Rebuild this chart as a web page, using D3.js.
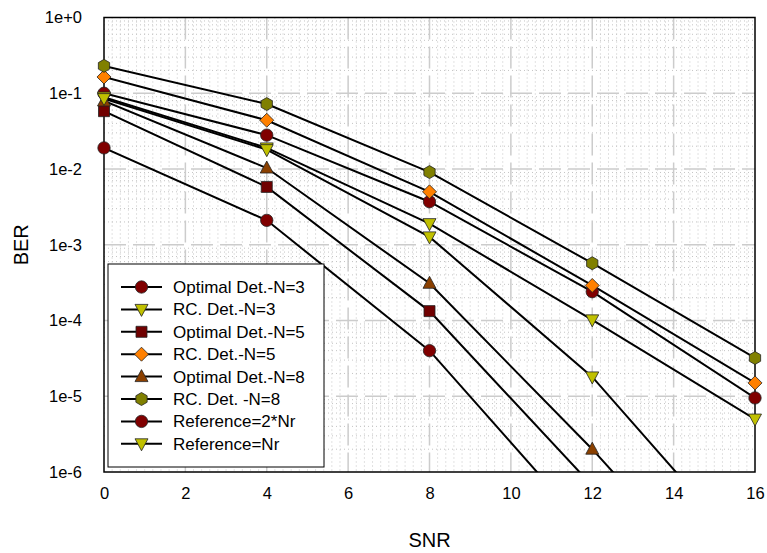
<!DOCTYPE html>
<html>
<head>
<meta charset="utf-8">
<script src="https://cdn.jsdelivr.net/npm/d3@7"></script>
<style>
  body { margin: 0; background: #fff; }
  svg { font-family: "Liberation Sans", Arial, sans-serif; }
</style>
</head>
<body>
<div id="chart"></div>
<script>
// SNR points and BER values
var snr = [0, 4, 8, 12, 16];
var optN3 = [0.1, 0.028, 0.0037, 2.4e-4, 9.5e-6];
var rcN3 = [0.089, 0.019, 0.0019, 1.02e-4, 5e-6];
var optN5 = [0.058, 0.0058, 1.33e-4, 6.6e-7];
var rcN5 = [0.164, 0.044, 0.005, 2.9e-4, 1.5e-5];
var optN8 = [0.079, 0.0103, 3.1e-4, 2e-6, 8.5e-9];
var rcN8 = [0.23, 0.072, 0.0091, 5.7e-4, 3.2e-5];
var ref2Nr = [0.019, 0.0021, 4e-5, 1.5e-7];
var refNr = [0.085, 0.018, 0.00127, 1.8e-5, 6.5e-8];

var xTicks = [0, 2, 4, 6, 8, 10, 12, 14, 16];
var yTicks = [1, 1e-1, 1e-2, 1e-3, 1e-4, 1e-5, 1e-6];

var series = [
    { name: "Optimal Det.-N=3", values: optN3, marker: "circle", color: "#800000" },
    { name: "RC. Det.-N=3", values: rcN3, marker: "tridown", color: "#c0c000" },
    { name: "Optimal Det.-N=5", values: optN5, marker: "square", color: "#700000" },
    { name: "RC. Det.-N=5", values: rcN5, marker: "diamond", color: "#ff8000" },
    { name: "Optimal Det.-N=8", values: optN8, marker: "triup", color: "#8b4000" },
    { name: "RC. Det. -N=8", values: rcN8, marker: "hexagon", color: "#808000" },
    { name: "Reference=2*Nr", values: ref2Nr, marker: "circle", color: "#800000" },
    { name: "Reference=Nr", values: refNr, marker: "tridown", color: "#c0c000" }
];

var width = 767, height = 553;
var pLeft = 104, pRight = 755, pTop = 17.5, pBottom = 472;

var svg = d3.select("#chart")
    .append("svg")
    .attr("width", width)
    .attr("height", height);

var x = d3.scaleLinear().domain([0, 16]).range([pLeft, pRight]);
var y = d3.scaleLog().domain([1e-6, 1]).range([pBottom, pTop]);

svg.append("clipPath").attr("id", "plot")
    .append("rect")
    .attr("x", pLeft).attr("y", pTop)
    .attr("width", pRight - pLeft).attr("height", pBottom - pTop);

// minor grid (dotted)
var grid = svg.append("g");
var minorX = d3.range(0, 16.01, 0.2).filter(d => Math.abs(d / 2 - Math.round(d / 2)) > 0.01);
grid.selectAll(".mx").data(minorX).enter().append("line")
    .attr("x1", d => x(d)).attr("x2", d => x(d))
    .attr("y1", pTop).attr("y2", pBottom)
    .attr("stroke", "#c4c4c4").attr("stroke-width", 1)
    .attr("stroke-dasharray", "1,3");
var minorY = [];
for (var e = -6; e < 0; e++) {
    for (var k = 2; k <= 9; k++) minorY.push(k * Math.pow(10, e));
}
grid.selectAll(".my").data(minorY).enter().append("line")
    .attr("x1", pLeft).attr("x2", pRight)
    .attr("y1", d => y(d)).attr("y2", d => y(d))
    .attr("stroke", "#c4c4c4").attr("stroke-width", 1)
    .attr("stroke-dasharray", "1,3");

// major grid (dashed)
grid.selectAll(".Mx").data(xTicks.slice(1, -1)).enter().append("line")
    .attr("x1", d => x(d)).attr("x2", d => x(d))
    .attr("y1", pTop).attr("y2", pBottom)
    .attr("stroke", "#cccccc").attr("stroke-width", 1.5)
    .attr("stroke-dasharray", "22,7");
grid.selectAll(".My").data(yTicks.slice(1, -1)).enter().append("line")
    .attr("x1", pLeft).attr("x2", pRight)
    .attr("y1", d => y(d)).attr("y2", d => y(d))
    .attr("stroke", "#cccccc").attr("stroke-width", 1.5)
    .attr("stroke-dasharray", "22,7");

// frame
svg.append("rect")
    .attr("x", pLeft).attr("y", pTop)
    .attr("width", pRight - pLeft).attr("height", pBottom - pTop)
    .attr("fill", "none").attr("stroke", "#000").attr("stroke-width", 1.5);

// axes
var xAxis = svg.append("g")
    .attr("transform", "translate(0," + pBottom + ")")
    .call(d3.axisBottom(x).tickValues(xTicks).tickSize(0).tickPadding(15));
var fmt = function(d) {
    var p = Math.round(Math.log10(d));
    return "1e" + (p >= 0 ? "+" : "") + p;
};
var yAxis = svg.append("g")
    .attr("transform", "translate(" + pLeft + ",0)")
    .call(d3.axisLeft(y).tickValues(yTicks).tickFormat(fmt).tickSize(0).tickPadding(22));
[xAxis, yAxis].forEach(function(a) {
    a.select(".domain").remove();
    a.selectAll("text").attr("font-size", "16.5px").attr("fill", "#000")
        .attr("font-family", "Liberation Sans, Arial, sans-serif");
});

svg.append("text")
    .attr("x", (pLeft + pRight) / 2).attr("y", 547)
    .attr("text-anchor", "middle")
    .attr("font-size", "20px")
    .text("SNR");
svg.append("text")
    .attr("transform", "translate(28," + (pTop + pBottom) / 2 + ") rotate(-90)")
    .attr("text-anchor", "middle")
    .attr("font-size", "20px")
    .text("BER");

// marker shapes
function markerPath(type) {
    if (type === "circle") return d3.symbol(d3.symbolCircle, 120)();
    if (type === "square") return "M-5.5,-5.5L5.5,-5.5L5.5,5.5L-5.5,5.5Z";
    if (type === "diamond") return "M0,-7L7,0L0,7L-7,0Z";
    if (type === "triup") return "M0,-7L6.5,5L-6.5,5Z";
    if (type === "tridown") return "M0,7L6.5,-5L-6.5,-5Z";
    if (type === "hexagon") {
        var pts = d3.range(6).map(function(i) {
            var a = Math.PI / 3 * i + Math.PI / 6;
            return [6.5 * Math.cos(a), 6.5 * Math.sin(a)];
        });
        return "M" + pts.join("L") + "Z";
    }
}

var line = d3.line()
    .x((d, i) => x(snr[i]))
    .y(d => y(d));

var plot = svg.append("g").attr("clip-path", "url(#plot)");

series.forEach(function(s) {
    plot.append("path")
        .attr("d", line(s.values))
        .attr("fill", "none")
        .attr("stroke", "#000")
        .attr("stroke-width", 2);
});

var markers = svg.append("g");
series.forEach(function(s) {
    markers.selectAll(null)
        .data(s.values.map((v, i) => [snr[i], v]).filter(d => d[1] >= 1e-6))
        .enter().append("path")
        .attr("transform", d => "translate(" + x(d[0]) + "," + y(d[1]) + ")")
        .attr("d", markerPath(s.marker))
        .attr("fill", s.color)
        .attr("stroke", "#222")
        .attr("stroke-width", 0.8);
});

// legend
var legend = svg.append("g").attr("transform", "translate(108,264)");
legend.append("rect")
    .attr("width", 216).attr("height", 203)
    .attr("fill", "#fff").attr("stroke", "#000").attr("stroke-width", 1);

series.forEach(function(s, i) {
    var row = legend.append("g").attr("transform", "translate(0," + (23 + i * 22.4) + ")");
    row.append("line")
        .attr("x1", 13).attr("x2", 54)
        .attr("stroke", "#000").attr("stroke-width", 2);
    row.append("path")
        .attr("transform", "translate(33.5,0)")
        .attr("d", markerPath(s.marker))
        .attr("fill", s.color)
        .attr("stroke", "#222")
        .attr("stroke-width", 0.8);
    row.append("text")
        .attr("x", 65).attr("y", 6)
        .attr("font-size", "17px")
        .text(s.name);
});
</script>
</body>
</html>
